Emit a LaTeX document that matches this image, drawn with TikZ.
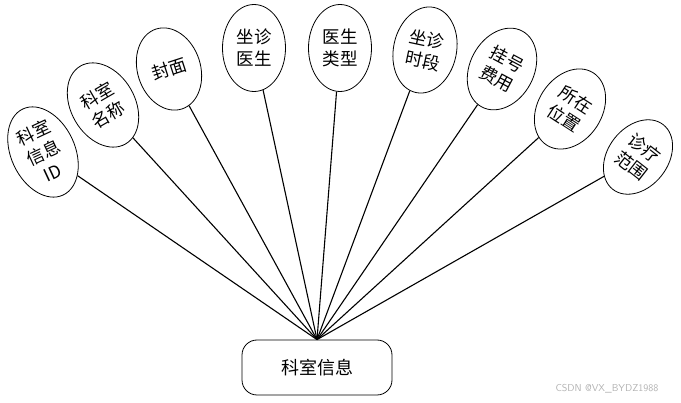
\documentclass[tikz,border=0pt]{standalone}
\usepackage{fontspec}
\newfontfamily\cjk{Noto Sans CJK SC}
\usetikzlibrary{shapes.geometric}
\begin{document}
\begin{tikzpicture}[x=1pt,y=-1pt,
  attr/.style={draw, ellipse, line width=0.8pt, inner sep=0pt, align=center,
    minimum width=63pt, minimum height=87pt, font=\cjk\fontsize{17.5}{22}\selectfont},
  hubbox/.style={draw, rounded corners=15pt, line width=0.8pt, minimum width=150pt,
    minimum height=55pt, font=\cjk\fontsize{18}{20}\selectfont},
  spoke/.style={line width=1.1pt}]
\useasboundingbox (0,0) rectangle (681,403);
\node[hubbox] (hub) at (317,367.5) {科室信息};
\node[attr, rotate=25, minimum width=64pt, minimum height=95pt] (e1) at (43,152) {科室\\信息\\ID};
\node[attr, rotate=30, minimum width=64pt, minimum height=90pt] (e2) at (103,105) {科室\\名称};
\node[attr, rotate=18, minimum height=84pt] (e3) at (169,69) {封面};
\node[attr] (e4) at (254,48) {坐诊\\医生};
\node[attr] (e5) at (340,48) {医生\\类型};
\node[attr, rotate=-12] (e6) at (425,50) {坐诊\\时段};
\node[attr, rotate=-28, minimum width=64pt, minimum height=86pt] (e7) at (502,69) {挂号\\费用};
\node[attr, rotate=-33, minimum width=64pt, minimum height=86pt] (e8) at (570,109) {所在\\位置};
\node[attr, rotate=-38, minimum width=60pt, minimum height=82pt] (e9) at (638,157) {诊疗\\范围};
\foreach \e in {e1,e2,e3,e4,e5,e6,e7,e8,e9}
  \draw[spoke] (hub.north) -- (\e);
\node[text=black!30, font=\fontsize{10}{12}\selectfont\sffamily] (wm) at (607,389) {CSDN @VX\_BYDZ1988};
\end{tikzpicture}
\end{document}
